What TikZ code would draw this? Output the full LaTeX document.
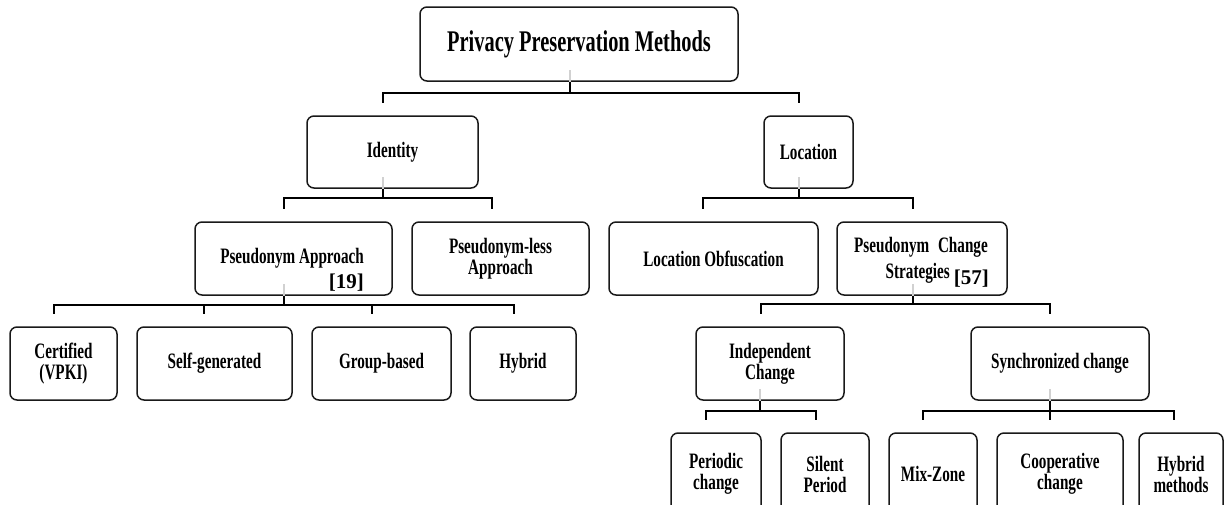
\documentclass[tikz,border=0pt]{standalone}
\usepackage{fontspec}
% condensed bold serif faces for the box labels
\newfontfamily\condfont[FakeStretch=0.69]{Liberation Serif}
\newfontfamily\titlefont[FakeStretch=0.68]{Liberation Serif}
\newfontfamily\citefont{Liberation Serif}
\begin{document}
\begin{tikzpicture}[x=1pt,y=-1pt,
  box/.style={draw=black!90, line width=1.5pt, rounded corners=7pt, inner sep=0pt,
    align=center, font=\condfont\bfseries\fontsize{22}{21}\selectfont},
  lbl/.style={inner sep=0pt, font=\condfont\bfseries\fontsize{22}{21}\selectfont},
  cite/.style={inner sep=0pt, font=\citefont\bfseries\fontsize{21}{22}\selectfont},
  conn/.style={line width=1.8pt, black},
  innerstem/.style={line width=1.5pt, black!18},
  ]
\useasboundingbox (0,0) rectangle (1226,504);
\clip (0,0) rectangle (1226,504);

% ---- level 0
\node[box, minimum width=318pt, minimum height=74pt,
  font=\titlefont\bfseries\fontsize{30}{32}\selectfont] (root) at (579,44) {Privacy Preservation Methods};

% ---- level 1
\node[box, minimum width=171pt, minimum height=72pt] (id)  at (392.5,152) {Identity};
\node[box, minimum width=89pt,  minimum height=72pt] (loc) at (808.5,152) {Location};

% ---- level 2
\node[box, minimum width=197pt, minimum height=73pt] (pa)  at (293.5,258.5) {};
\node[lbl, anchor=base east] (pa-t) at (364,263) {Pseudonym Approach};
\node[cite, anchor=base east] (pa-c) at (364,288) {[19]};
\node[box, minimum width=177pt, minimum height=73pt] (pl)  at (500.5,258.5) {Pseudonym-less\\Approach};
\node[box, minimum width=209pt, minimum height=73pt] (lo)  at (713.5,258.5) {Location Obfuscation};
\node[box, minimum width=170pt, minimum height=73pt] (pcs) at (922,258.5) {};
\node[lbl, anchor=base east] (pcs-t1) at (988,252) {Pseudonym\hspace{5pt} Change};
\node[lbl, anchor=base east] (pcs-t2) at (950,278) {Strategies};
\node[cite, anchor=base east] (pcs-c) at (989,284) {[57]};

% ---- level 3
\node[box, minimum width=107pt, minimum height=73pt] (cert)  at (63.5,363.5)  {Certified\\(VPKI)};
\node[box, minimum width=155pt, minimum height=73pt] (self)  at (214.5,363.5) {Self-generated};
\node[box, minimum width=139pt, minimum height=73pt] (group) at (381.5,363.5) {Group-based};
\node[box, minimum width=106pt, minimum height=73pt] (hyb)   at (523,363.5)   {Hybrid};
\node[box, minimum width=148pt, minimum height=73pt] (ic)    at (770,363.5)   {Independent\\Change};
\node[box, minimum width=178pt, minimum height=73pt] (sc)    at (1060,363.5)  {Synchronized change};

% ---- level 4
\node[box, minimum width=90pt,  minimum height=82pt] (per)  at (716,474)  {Periodic\\change};
\node[box, minimum width=88pt,  minimum height=82pt] (sil)  at (825,474)  {Silent\\Period};
\node[box, minimum width=88pt,  minimum height=82pt] (mix)  at (933,474)  {Mix-Zone};
\node[box, minimum width=126pt, minimum height=82pt] (coop) at (1060,474) {Cooperative\\change};
\node[box, minimum width=84pt,  minimum height=82pt] (hm)   at (1181,474) {Hybrid\\methods};

% ---- stem points on the parents' lower edges
\coordinate (root-s) at ([xshift=-9pt]root.south);
\coordinate (id-s)   at ([xshift=-9.5pt]id.south);
\coordinate (loc-s)  at ([xshift=-9.5pt]loc.south);
\coordinate (pa-s)   at ([xshift=-9.5pt]pa.south);
\coordinate (pcs-s)  at ([xshift=-9pt]pcs.south);
\coordinate (ic-s)   at ([xshift=-10pt]ic.south);
\coordinate (sc-s)   at ([xshift=-10pt]sc.south);

% ---- bar heights
\coordinate (root-b) at (0,93);
\coordinate (id-b)   at (0,198);
\coordinate (loc-b)  at (0,198);
\coordinate (pa-b)   at (0,305);
\coordinate (pcs-b)  at (0,304);
\coordinate (ic-b)   at (0,411);
\coordinate (sc-b)   at (0,411);

% ---- free ends of the drops above each child
\coordinate (id-d)    at (id-s |- 0,103);
\coordinate (loc-d)   at (loc-s |- 0,103);
\coordinate (pa-d)    at (pa-s |- 0,209);
\coordinate (pl-d)    at (492,209);
\coordinate (lo-d)    at (703,209);
\coordinate (pcs-d)   at (pcs-s |- 0,209);
\coordinate (cert-d)  at (54,314);
\coordinate (self-d)  at (204,314);
\coordinate (group-d) at (372,314);
\coordinate (hyb-d)   at (514,314);
\coordinate (ic-d)    at (761,314);
\coordinate (sc-d)    at (1050,314);
\coordinate (per-d)   at (706,420);
\coordinate (sil-d)   at (816,420);
\coordinate (mix-d)   at (923,420);
\coordinate (coop-d)  at (1050,420);
\coordinate (hm-d)    at (1174,420);

% ---- faint stems inside the parent boxes
\foreach \p in {root,id,loc,pa,pcs,ic,sc}
  \draw[innerstem] (\p-s) -- ++(0,-12);

% ---- connectors
\foreach \p/\c in {root/id, root/loc,
                   id/pa, id/pl,
                   loc/lo, loc/pcs,
                   pa/cert, pa/self, pa/group, pa/hyb,
                   pcs/ic, pcs/sc,
                   ic/per, ic/sil,
                   sc/mix, sc/coop, sc/hm}
  \draw[conn] (\p-s) -- (\p-s |- \p-b) -| (\c-d);
\end{tikzpicture}
\end{document}
